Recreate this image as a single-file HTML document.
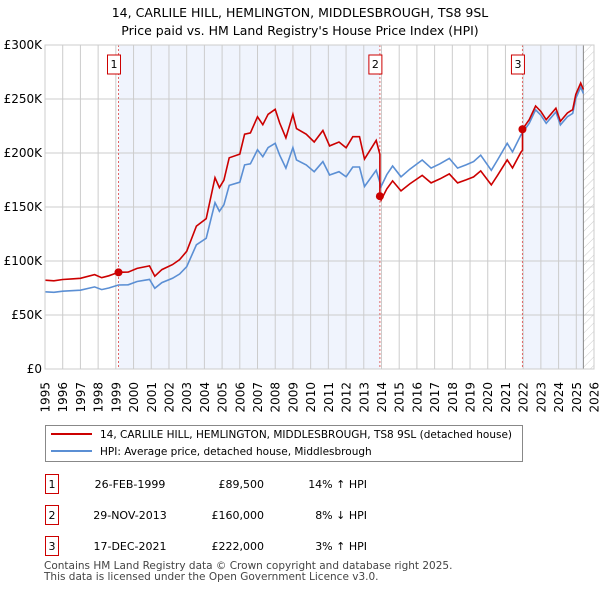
<!DOCTYPE html>
<html><head><meta charset="utf-8"><style>
body{margin:0;background:#fff;font-family:"DejaVu Sans",sans-serif;}
svg text{font-family:"DejaVu Sans","Liberation Sans",sans-serif;}
</style></head><body>
<svg id="c" width="600" height="590" xmlns="http://www.w3.org/2000/svg">
<text x="300" y="17" text-anchor="middle" font-size="12.5" fill="#000">14, CARLILE HILL, HEMLINGTON, MIDDLESBROUGH, TS8 9SL</text>
<text x="300" y="35" text-anchor="middle" font-size="12.5" fill="#000">Price paid vs. HM Land Registry's House Price Index (HPI)</text>
<g id="plot"></g>
<rect x="45.5" y="425.5" width="477" height="36" fill="#fff" stroke="#888"/>
<line x1="51" y1="434" x2="92" y2="434" stroke="#cc0000" stroke-width="2"/>
<text x="100" y="438" font-size="10.5">14, CARLILE HILL, HEMLINGTON, MIDDLESBROUGH, TS8 9SL (detached house)</text>
<line x1="51" y1="451" x2="92" y2="451" stroke="#5b8fd4" stroke-width="2"/>
<text x="100" y="455" font-size="10.5">HPI: Average price, detached house, Middlesbrough</text>
<g id="table"></g>
<text x="44" y="569" font-size="10.5" fill="#444">Contains HM Land Registry data © Crown copyright and database right 2025.</text>
<text x="44" y="580" font-size="10.5" fill="#444">This data is licensed under the Open Government Licence v3.0.</text>
</svg>
<script>
const hpiYears=[1995,1995.5,1996,1996.5,1997,1997.8,1998.2,1998.6,1999.15,1999.7,2000.2,2000.9,2001.2,2001.6,2002.2,2002.6,2003.0,2003.55,2004.1,2004.6,2004.85,2005.1,2005.4,2006.0,2006.27,2006.6,2007.0,2007.3,2007.6,2008.0,2008.25,2008.6,2009.0,2009.2,2009.75,2010.2,2010.69,2011.07,2011.6,2012.0,2012.38,2012.76,2013.04,2013.7,2013.98,2014.3,2014.63,2015.1,2015.6,2016.3,2016.8,2017.3,2017.83,2018.3,2018.77,2019.2,2019.6,2020.2,2020.55,2021.1,2021.4,2021.87,2022.34,2022.7,2023.0,2023.3,2023.85,2024.1,2024.5,2024.8,2024.97,2025.25,2025.4];
const hpiValues=[71.5,71,72,72.5,73,76,73.5,75,77.8,78,81,83,74.7,80,84,88,94.7,115,121,154,146,152,170,173,189,190,203,196.6,205,209,198,186,205,193.5,189,182.7,192,179.6,182.7,178,187,187,169,184,169,180,188,178,185,193.5,186,190,195,186,189,192,198,184,193.5,209,201,216.7,227.5,240,235,227.5,238,226,233.6,236.7,250.6,261,255];
const saleLabels=["1","2","3"];
const saleYears=[1999.15,2013.91,2021.96];
const salePrices=[89.5,160,222];
const saleDates=["26-FEB-1999","29-NOV-2013","17-DEC-2021"];
const salePriceText=["£89,500","£160,000","£222,000"];
const saleHpiText=["14% ↑ HPI","8% ↓ HPI","3% ↑ HPI"];
const yTicks=[0,50,100,150,200,250,300];
const yTickLabels=["£0","£50K","£100K","£150K","£200K","£250K","£300K"];
const xStart=1995,xEnd=2026,dataEnd=2025.4;

const L=45,R=594,T=45,B=369,NS="http://www.w3.org/2000/svg";
const X=y=>L+(y-xStart)/(xEnd-xStart)*(R-L);
const Y=v=>B-v/300*(B-T);
const g=document.getElementById('plot');
function mk(t,a,p){const e=document.createElementNS(NS,t);for(const k in a)e.setAttribute(k,a[k]);(p||g).appendChild(e);return e;}
function hpiAt(y){for(let i=1;i<hpiYears.length;i++){if(y<=hpiYears[i]){const f=(y-hpiYears[i-1])/(hpiYears[i]-hpiYears[i-1]);return hpiValues[i-1]+f*(hpiValues[i]-hpiValues[i-1]);}}return hpiValues[hpiValues.length-1];}
let e=mk('rect',{x:X(saleYears[0]),y:T,width:X(saleYears[1])-X(saleYears[0]),height:B-T,fill:'#f0f4fd'});


e=mk('rect',{x:X(saleYears[2]),y:T,width:X(dataEnd)-X(saleYears[2]),height:B-T,fill:'#f0f4fd'});


const defs=mk('defs',{});
const pat=mk('pattern',{id:'h',width:6,height:6,patternUnits:'userSpaceOnUse',patternTransform:'rotate(45)'},defs);
mk('line',{x1:0,y1:0,x2:0,y2:6,stroke:'#ccc','stroke-width':1},pat);
e=mk('rect',{x:X(dataEnd),y:T,width:R-X(dataEnd),height:B-T,fill:'url(#h)'});


for(let yr=xStart;yr<=xEnd;yr++){e=mk('line',{x1:X(yr),x2:X(yr),y1:T,y2:B,stroke:'#ccc'});


const t=mk('text',{x:0,y:0,'text-anchor':'end','font-size':12,transform:`translate(${X(yr)+4.5},${B+13}) rotate(-90)`});t.textContent=yr;

}
yTicks.forEach((v,i)=>{e=mk('line',{x1:L,x2:R,y1:Y(v),y2:Y(v),stroke:'#ccc'});


const t=mk('text',{x:L-3,y:Y(v)+4,'text-anchor':'end','font-size':12});t.textContent=yTickLabels[i];

});
e=mk('line',{x1:X(dataEnd),x2:X(dataEnd),y1:T,y2:B,stroke:'#888'});


saleYears.forEach((s,i)=>{e=mk('line',{x1:X(s),x2:X(s),y1:T,y2:B,stroke:'#e06666','stroke-dasharray':'2,2'});


const bx=mk('rect',{x:X(s)-11,y:55,width:13,height:19,fill:'#fff',stroke:'#cc0000'});


const t=mk('text',{x:X(s)-4.5,y:68,'text-anchor':'middle','font-size':11});t.textContent=saleLabels[i];

});
let d='';hpiYears.forEach((y,i)=>{d+=(i?'L':'M')+X(y).toFixed(1)+','+Y(hpiValues[i]).toFixed(1);});
e=mk('path',{d:d,fill:'none',stroke:'#5b8fd4','stroke-width':1.6});


function factor(y){let f=salePrices[0]/hpiAt(saleYears[0]);for(let i=0;i<saleYears.length;i++)if(y>=saleYears[i])f=salePrices[i]/hpiAt(saleYears[i]);return f;}
const pts=[];
hpiYears.forEach((y,i)=>{saleYears.forEach((s,j)=>{if(i>0&&hpiYears[i-1]<s&&y>=s){pts.push([s,hpiAt(s)*factor(s-1e-6)]);pts.push([s,salePrices[j]]);}});pts.push([y,hpiValues[i]*factor(y)]);});
d='';pts.forEach((p,i)=>{d+=(i?'L':'M')+X(p[0]).toFixed(1)+','+Y(p[1]).toFixed(1);});
e=mk('path',{d:d,fill:'none',stroke:'#cc0000','stroke-width':1.6});


saleYears.forEach((s,i)=>{e=mk('circle',{cx:X(s),cy:Y(salePrices[i]),r:4,fill:'#cc0000'});

});
e=mk('rect',{x:L,y:T,width:R-L,height:B-T,fill:'none',stroke:'#ccc'});


const tg=document.getElementById('table');
saleLabels.forEach((lab,i)=>{const cy=483+i*31;
let r=mk('rect',{x:45.5,y:cy-8.5,width:13,height:19,fill:'#fff',stroke:'#cc0000'},tg);


const cells=[[52,lab,'middle'],[130,saleDates[i],'middle'],[264,salePriceText[i],'end'],[367,saleHpiText[i],'end']];
cells.forEach(c=>{const t=mk('text',{x:c[0],y:cy+5,'text-anchor':c[2],'font-size':11},tg);t.textContent=c[1];

});});
</script>
</body></html>
